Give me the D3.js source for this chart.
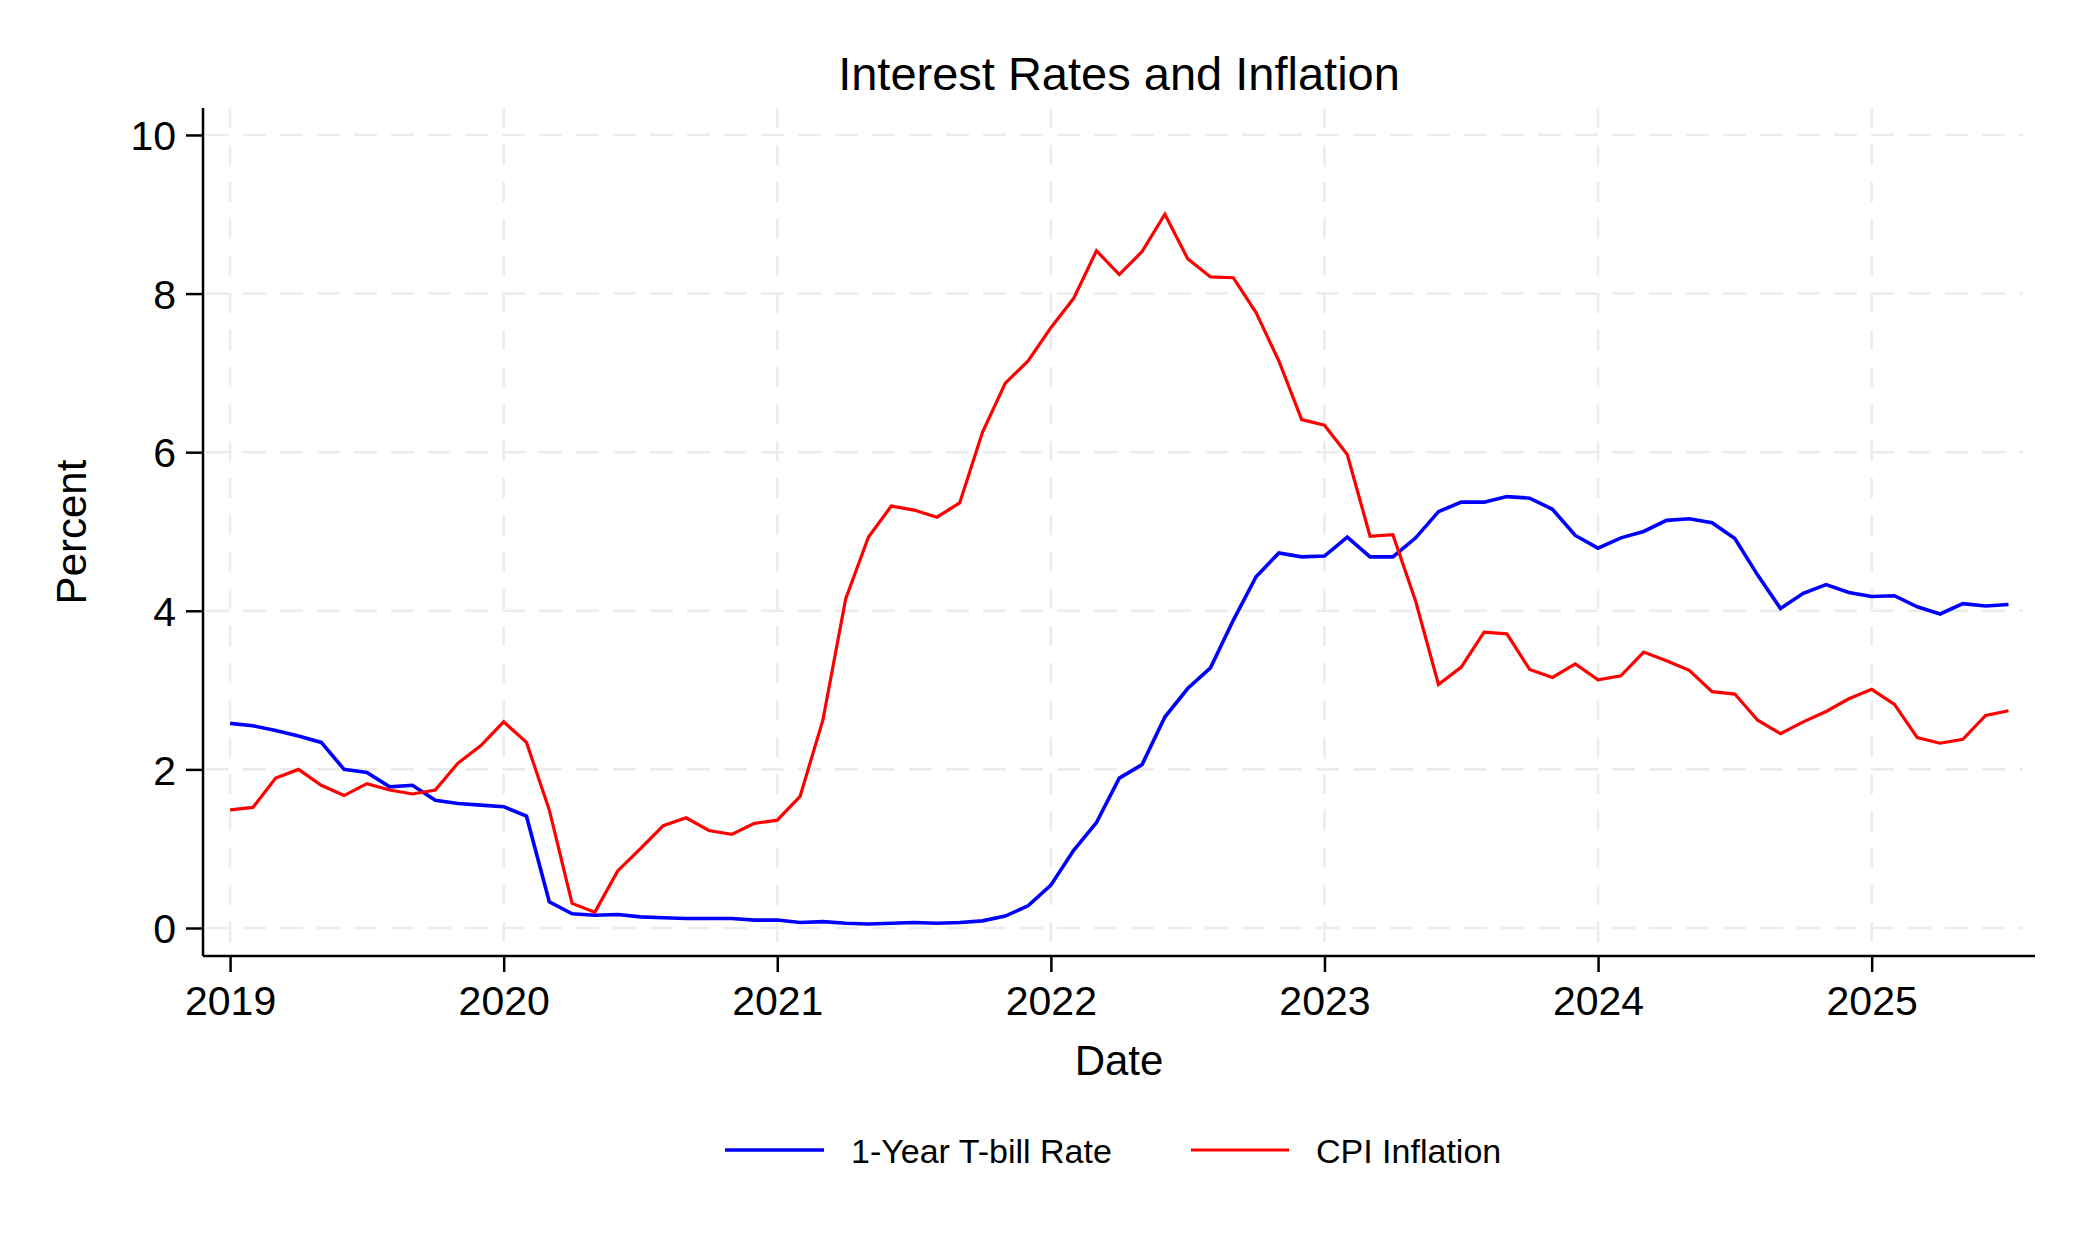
<!DOCTYPE html>
<html>
<head>
<meta charset="utf-8">
<script src="https://cdn.jsdelivr.net/npm/d3@7"></script>
<style>
  html, body { margin: 0; padding: 0; background: #ffffff; }
  svg { display: block; }
  text { font-family: "Liberation Sans", Arial, Helvetica, sans-serif; fill: #000; }
</style>
</head>
<body>
<svg id="chart" width="2080" height="1249"></svg>
<script>
// ---- Data (monthly, Jan 2019 .. Jul 2025) ----
const startYear = 2019;
const tbillRate = [
  2.58, 2.55, 2.49, 2.42, 2.34, 2.00, 1.96, 1.78, 1.80, 1.61, 1.57, 1.55,
  1.53, 1.41, 0.33, 0.18, 0.16, 0.17, 0.14, 0.13, 0.12, 0.12, 0.12, 0.10,
  0.10, 0.07, 0.08, 0.06, 0.05, 0.06, 0.07, 0.06, 0.07, 0.09, 0.15, 0.28,
  0.54, 0.98, 1.33, 1.89, 2.06, 2.66, 3.02, 3.28, 3.88, 4.43, 4.73, 4.68,
  4.69, 4.93, 4.68, 4.68, 4.92, 5.25, 5.37, 5.37, 5.44, 5.42, 5.28, 4.95,
  4.79, 4.92, 5.00, 5.14, 5.16, 5.11, 4.91, 4.45, 4.03, 4.22, 4.33, 4.23,
  4.18, 4.19, 4.05, 3.96, 4.09, 4.06, 4.08
];
const cpiInflation = [
  1.49, 1.52, 1.89, 2.00, 1.80, 1.67, 1.82, 1.74, 1.69, 1.74, 2.08, 2.30,
  2.60, 2.34, 1.49, 0.31, 0.20, 0.72, 1.00, 1.29, 1.39, 1.23, 1.18, 1.32,
  1.36, 1.66, 2.62, 4.15, 4.93, 5.32, 5.27, 5.18, 5.36, 6.25, 6.87, 7.15,
  7.57, 7.94, 8.54, 8.24, 8.53, 9.00, 8.44, 8.21, 8.20, 7.76, 7.15, 6.41,
  6.34, 5.97, 4.94, 4.96, 4.12, 3.07, 3.29, 3.73, 3.71, 3.26, 3.16, 3.33,
  3.13, 3.18, 3.48, 3.37, 3.25, 2.98, 2.95, 2.62, 2.45, 2.60, 2.73, 2.89,
  3.01, 2.82, 2.40, 2.33, 2.38, 2.68, 2.74
];
const yearTicks = [2019, 2020, 2021, 2022, 2023, 2024, 2025];
const yTicks = [0, 2, 4, 6, 8, 10];
const seriesNames = ["1-Year T-bill Rate", "CPI Inflation"];
const seriesColors = ["#0000ff", "#ff0000"];
const titleText = "Interest Rates and Inflation";
const xTitle = "Date";
const yTitle = "Percent";

// ---- Layout ----
const svg = d3.select("#chart");
const plotLeft = 203, plotRight = 2035, plotTop = 108, plotBottom = 956;

const x = d3.scaleLinear().domain([2018.901, 2025.597]).range([plotLeft, plotRight]);
const y = d3.scaleLinear().domain([-0.353, 10.34]).range([plotBottom, plotTop]);

const dateOf = i => startYear + i / 12;

// Grid lines
const grid = svg.append("g");
grid.selectAll("line.hgrid").data(yTicks).enter().append("line")
  .attr("x1", plotLeft + 3).attr("x2", 2023)
  .attr("y1", d => y(d)).attr("y2", d => y(d))
  .attr("stroke", "#ececec").attr("stroke-width", 2.6)
  .attr("stroke-dasharray", "23,14");
grid.selectAll("line.vgrid").data(yearTicks).enter().append("line")
  .attr("x1", d => x(d)).attr("x2", d => x(d))
  .attr("y1", plotTop).attr("y2", plotBottom - 2)
  .attr("stroke", "#ececec").attr("stroke-width", 2.6)
  .attr("stroke-dasharray", "20,17");

// Axes
const yAxis = d3.axisLeft(y).tickValues(yTicks).tickSize(17).tickPadding(10).tickFormat(d3.format("d"));
const xAxis = d3.axisBottom(x).tickValues(yearTicks).tickSize(16).tickPadding(12).tickFormat(d3.format("d"));

const gy = svg.append("g").attr("transform", `translate(${plotLeft},0)`).call(yAxis);
const gx = svg.append("g").attr("transform", `translate(0,${plotBottom})`).call(xAxis);
[gy, gx].forEach(g => {
  g.select(".domain").attr("stroke", "#000").attr("stroke-width", 2.5);
  g.selectAll(".tick line").attr("stroke", "#000").attr("stroke-width", 2.5);
  g.selectAll(".tick text").attr("font-size", 41).attr("fill", "#000")
    .attr("font-family", '"Liberation Sans", Arial, Helvetica, sans-serif');
});
gy.select(".domain").attr("d", `M0,${plotTop}V${plotBottom}`);
gx.select(".domain").attr("d", `M${plotLeft},0H${plotRight}`);
gx.selectAll(".tick text").attr("dy", null).attr("y", 59);
gy.selectAll(".tick text").attr("x", -27).attr("dy", "0.36em");

// Lines
const line = d3.line().x((d, i) => x(dateOf(i))).y(d => y(d));
const seriesData = [tbillRate, cpiInflation];
const seriesWidths = [3.6, 3.2];
svg.append("g").selectAll("path.series").data(seriesData).enter().append("path")
  .attr("fill", "none")
  .attr("stroke", (d, i) => seriesColors[i])
  .attr("stroke-width", (d, i) => seriesWidths[i])
  .attr("stroke-linejoin", "miter")
  .attr("d", d => line(d));

// Titles
svg.append("text").attr("x", (plotLeft + plotRight) / 2).attr("y", 90)
  .attr("text-anchor", "middle").attr("font-size", 47).text(titleText);
svg.append("text").attr("x", (plotLeft + plotRight) / 2).attr("y", 1075)
  .attr("text-anchor", "middle").attr("font-size", 42).text(xTitle);
svg.append("text")
  .attr("transform", `translate(86,${(plotTop + plotBottom) / 2}) rotate(-90)`)
  .attr("text-anchor", "middle").attr("font-size", 42).text(yTitle);

// Legend
const legendItems = [
  { x1: 725, x2: 824, tx: 851 },
  { x1: 1191, x2: 1289, tx: 1316 }
];
const lg = svg.append("g");
legendItems.forEach((it, i) => {
  lg.append("line").attr("x1", it.x1).attr("x2", it.x2)
    .attr("y1", 1150).attr("y2", 1150)
    .attr("stroke", seriesColors[i]).attr("stroke-width", seriesWidths[i]);
  lg.append("text").attr("x", it.tx).attr("y", 1163)
    .attr("font-size", 34).text(seriesNames[i]);
});
</script>
</body>
</html>
